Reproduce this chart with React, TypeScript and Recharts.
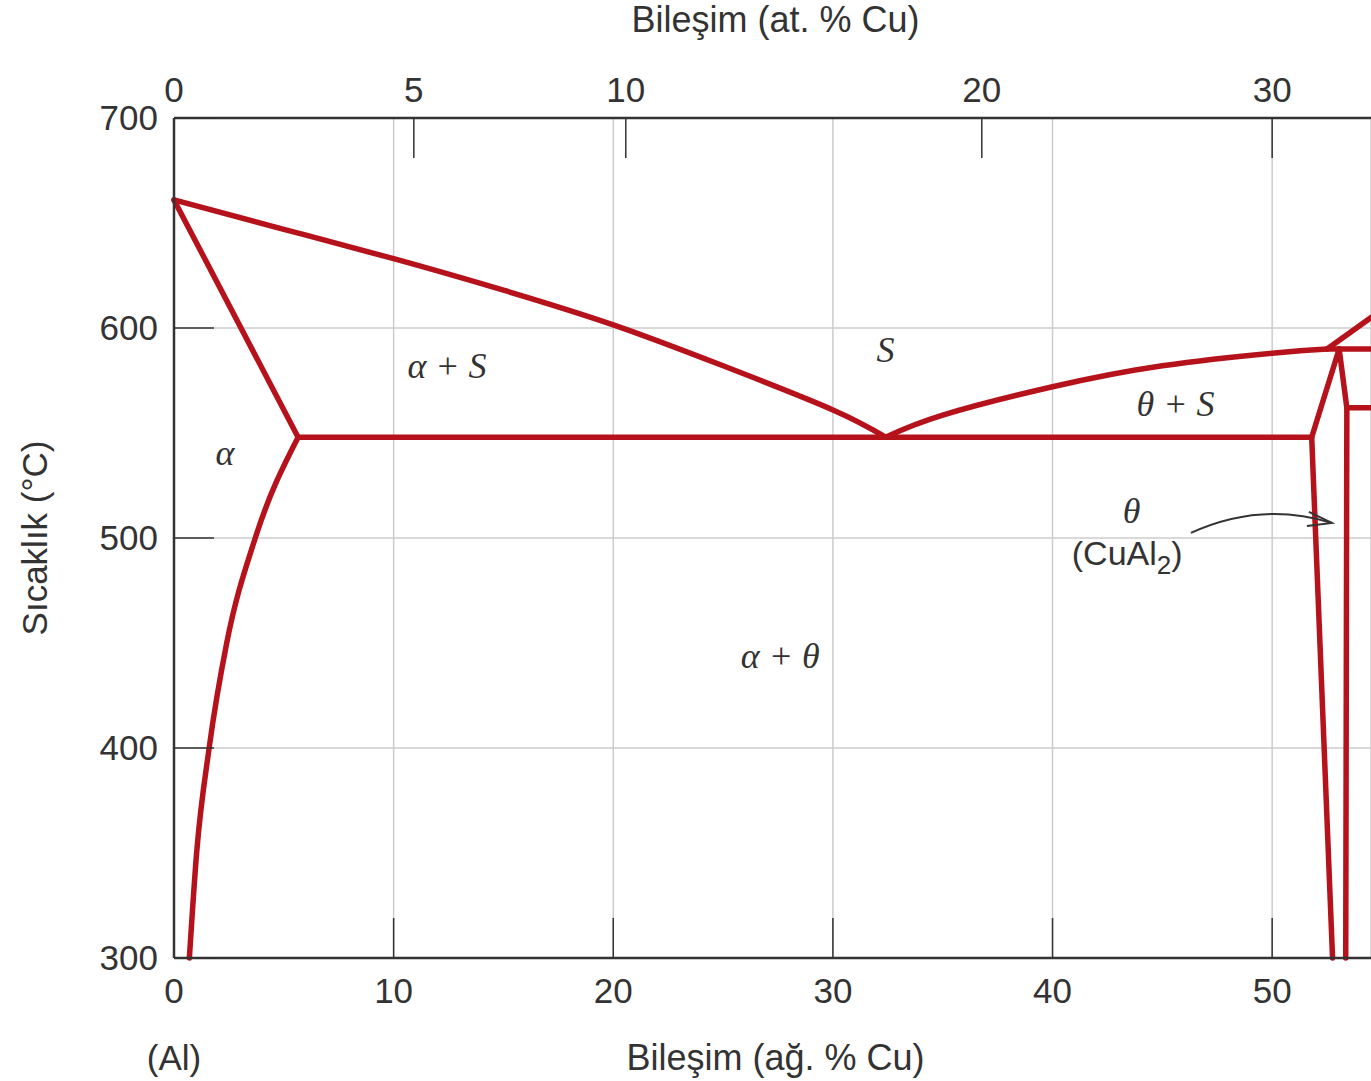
import React from "react";
import {
  ComposedChart,
  Line,
  XAxis,
  YAxis,
  CartesianGrid,
  ReferenceDot,
  Label,
} from "recharts";

const RED = "#b5121b";
const INK = "#333333";
const SANS = "'Liberation Sans', Arial, sans-serif";
const SERIF = "'Liberation Serif', 'Times New Roman', serif";

// bottom axis: wt% Cu, left axis: temperature
const wtTicks = [0, 10, 20, 30, 40, 50];
const tempTicks = [300, 400, 500, 600, 700];
// top axis: at% Cu labels, placed at the matching wt% value
const atLabels = ["0", "5", "10", "20", "30"];
const atTickWt = [0, 10.92, 20.57, 36.78, 50.0];

// phase boundaries (w = wt% Cu, t = °C)
const liquidusAl = [
  { w: 0, t: 661 },
  { w: 5, t: 647 },
  { w: 10, t: 633 },
  { w: 15, t: 618 },
  { w: 20, t: 601.5 },
  { w: 25, t: 582 },
  { w: 30, t: 561 },
  { w: 32.4, t: 548 },
];
const solidusAlpha = [
  { w: 0, t: 661 },
  { w: 5.65, t: 548 },
];
const solvusAlpha = [
  { w: 0.7, t: 300 },
  { w: 1.03, t: 350 },
  { w: 1.6, t: 400 },
  { w: 2.4, t: 450 },
  { w: 3.7, t: 500 },
  { w: 5.65, t: 548 },
];
const eutectic = [
  { w: 5.65, t: 548 },
  { w: 51.8, t: 548 },
];
const liquidusTheta = [
  { w: 32.4, t: 548 },
  { w: 35, t: 558.5 },
  { w: 40, t: 572 },
  { w: 45, t: 582 },
  { w: 50, t: 588 },
  { w: 52.5, t: 590 },
];
const thetaLeft = [
  { w: 52.75, t: 300 },
  { w: 51.8, t: 548 },
  { w: 53.05, t: 590 },
];
const thetaRight = [
  { w: 53.05, t: 590 },
  { w: 53.4, t: 562 },
  { w: 53.35, t: 300 },
];
const line590 = [
  { w: 52.5, t: 590 },
  { w: 54.5, t: 590 },
];
const line562 = [
  { w: 53.4, t: 562 },
  { w: 54.5, t: 562 },
];
const liquidusRight = [
  { w: 52.5, t: 590 },
  { w: 54.5, t: 605 },
];

const boundaries = [
  { id: "liqAl", data: liquidusAl, type: "natural", axis: 0 },
  { id: "solA", data: solidusAlpha, type: "linear", axis: 0 },
  { id: "solvA", data: solvusAlpha, type: "monotone", axis: 0 },
  // same domain as the bottom axis; binding it here makes the top axis draw its ticks
  { id: "eut", data: eutectic, type: "linear", axis: "top" },
  { id: "liqTh", data: liquidusTheta, type: "natural", axis: 0 },
  { id: "thL", data: thetaLeft, type: "linear", axis: 0 },
  { id: "thR", data: thetaRight, type: "linear", axis: 0 },
  { id: "h590", data: line590, type: "linear", axis: 0 },
  { id: "h562", data: line562, type: "linear", axis: 0 },
  { id: "liqR", data: liquidusRight, type: "linear", axis: 0 },
];

// phase-field labels (centre x, baseline temperature)
const phaseLabels = [
  { w: 12.43, t: 576, text: "α + S" },
  { w: 32.4, t: 584, text: "S" },
  { w: 2.32, t: 535, text: "α" },
  { w: 45.6, t: 558, text: "θ + S" },
  { w: 27.6, t: 438, text: "α + θ" },
  { w: 43.6, t: 507, text: "θ" },
];

const tickStyle = { fill: INK, fontSize: 35, fontFamily: SANS };
const axisLineStyle = { stroke: INK, strokeWidth: 2.5 };
const tickLineStyle = { stroke: INK, strokeWidth: 1.5 };

export default function App() {
  return (
    <div style={{ position: "absolute", left: 0, top: 0, background: "#fff" }}>
      <ComposedChart
        width={1371}
        height={1081}
        margin={{ top: 117, right: 0, bottom: 122, left: 173 }}
      >
        <CartesianGrid stroke="#cccccc" strokeWidth={1.5} />
        <XAxis
          dataKey="w"
          type="number"
          domain={[0, 54.5]}
          ticks={wtTicks}
          interval={0}
          height={1}
          tickSize={-40}
          tickMargin={60}
          tick={tickStyle}
          axisLine={axisLineStyle}
          tickLine={tickLineStyle}
        >
          <Label
            content={({ viewBox }: any) => (
              <g>
                <text
                  x={viewBox.x + viewBox.width / 2 + 3}
                  y={1070}
                  textAnchor="middle"
                  fill={INK}
                  fontSize={36}
                  fontFamily={SANS}
                >
                  Bileşim (ağ. % Cu)
                </text>
                <text
                  x={viewBox.x}
                  y={1070}
                  textAnchor="middle"
                  fill={INK}
                  fontSize={35}
                  fontFamily={SANS}
                >
                  (Al)
                </text>
              </g>
            )}
          />
        </XAxis>
        <XAxis
          xAxisId="top"
          orientation="top"
          dataKey="w"
          type="number"
          domain={[0, 54.5]}
          ticks={atTickWt}
          interval={0}
          height={1}
          tickSize={-40}
          tickMargin={56}
          tick={tickStyle}
          tickFormatter={(v: number) => {
            const i = atTickWt.findIndex((x) => Math.abs(x - v) < 1e-6);
            return i >= 0 ? atLabels[i] : "";
          }}
          axisLine={axisLineStyle}
          tickLine={tickLineStyle}
        >
          <Label
            content={({ viewBox }: any) => (
              <text
                x={viewBox.x + viewBox.width / 2 + 3}
                y={32}
                textAnchor="middle"
                fill={INK}
                fontSize={36}
                fontFamily={SANS}
              >
                Bileşim (at. % Cu)
              </text>
            )}
          />
        </XAxis>
        <YAxis
          type="number"
          domain={[300, 700]}
          ticks={tempTicks}
          interval={0}
          width={1}
          tickSize={-40}
          tickMargin={56}
          tick={tickStyle}
          axisLine={axisLineStyle}
          tickLine={tickLineStyle}
        >
          <Label
            content={({ viewBox }: any) => {
              const cy = viewBox.y + viewBox.height / 2;
              return (
                <text
                  x={47}
                  y={cy}
                  transform={`rotate(-90 47 ${cy})`}
                  textAnchor="middle"
                  fill={INK}
                  fontSize={35}
                  fontFamily={SANS}
                >
                  Sıcaklık (°C)
                </text>
              );
            }}
          />
        </YAxis>

        {boundaries.map((b) => (
          <Line
            key={b.id}
            xAxisId={b.axis}
            data={b.data}
            dataKey="t"
            type={b.type as any}
            stroke={RED}
            strokeWidth={5.5}
            strokeLinecap="round"
            strokeLinejoin="round"
            dot={false}
            activeDot={false}
            isAnimationActive={false}
          />
        ))}

        {phaseLabels.map((p) => (
          <ReferenceDot
            key={p.text + p.w}
            x={p.w}
            y={p.t}
            r={0}
            ifOverflow="visible"
            shape={(s: any) => (
              <text
                x={s.cx}
                y={s.cy}
                textAnchor="middle"
                fill={INK}
                fontSize={36}
                fontStyle="italic"
                fontFamily={SERIF}
              >
                {p.text}
              </text>
            )}
          />
        ))}

        <ReferenceDot
          x={43.4}
          y={487}
          r={0}
          ifOverflow="visible"
          shape={(s: any) => (
            <text
              x={s.cx}
              y={s.cy}
              textAnchor="middle"
              fill={INK}
              fontSize={34}
              fontFamily={SANS}
            >
              (CuAl<tspan fontSize={26} dy={9}>2</tspan>
              <tspan dy={-9}>)</tspan>
            </text>
          )}
        />
        <ReferenceDot
          x={46.3}
          y={502.4}
          r={0}
          ifOverflow="visible"
          shape={(s: any) => (
            <g fill="none" stroke={INK} strokeWidth={2}>
              <path d={`M${s.cx},${s.cy} Q${s.cx + 70},${s.cy - 32} ${s.cx + 141},${s.cy - 10}`} />
              <path
                d={`M${s.cx + 118},${s.cy - 21} L${s.cx + 141},${s.cy - 10} L${s.cx + 116},${s.cy - 7}`}
              />
            </g>
          )}
        />
      </ComposedChart>
    </div>
  );
}
